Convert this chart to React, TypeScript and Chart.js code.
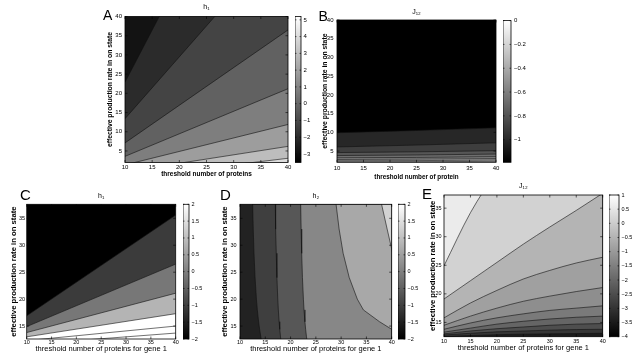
import React, { useEffect, useRef } from "react";
import { Chart, registerables } from "chart.js";
Chart.register(...registerables);

const FONT = '"Liberation Sans", Arial, Helvetica, sans-serif';
Chart.defaults.font.family = FONT;

// ---------------- DATA ----------------
// Panel A : h1 (contour boundaries y(x), listed bottom -> top)
const A_X = [10, 40];
const A_LINES = [
  [-2.0, 3.1],
  [-0.4, 6.2],
  [1.37, 11.9],
  [3.6, 21.2],
  [7.1, 36.5],
  [13.4, 61.7],
  [22.9, 104.3],
];
const A_BASE = "#dcdcdc";
const A_FILLS = ["#bdbdbd", "#9d9d9d", "#7e7e7e", "#616161", "#444444", "#2b2b2b", "#131313"];
const A_X_TICKS = [10, 15, 20, 25, 30, 35, 40];
const A_Y_TICKS = [5, 10, 15, 20, 25, 30, 35, 40];
const A_CB_TICKS = [-3, -2, -1, 0, 1, 2, 3, 4, 5];

// Panel B : J12
const B_X = [10, 25, 40];
const B_LINES = [
  [2.12, 2.15, 2.25],
  [2.4, 2.45, 2.6],
  [2.75, 2.85, 3.0],
  [3.2, 3.3, 3.5],
  [3.8, 3.95, 4.2],
  [4.6, 4.8, 5.1],
  [6.1, 6.6, 7.2],
  [9.9, 10.5, 11.2],
];
const B_BASE = "#d6d6d6";
const B_FILLS = ["#bbbbbb", "#a0a0a0", "#878787", "#6e6e6e", "#565656", "#3e3e3e", "#272727", "#000000"];
const B_X_TICKS = [10, 15, 20, 25, 30, 35, 40];
const B_Y_TICKS = [5, 10, 15, 20, 25, 30, 35, 40];
const B_CB_TICKS = [0, -0.2, -0.4, -0.6, -0.8, -1];

// Panel C : h1 (gene 1)
const C_X = [10, 40];
const C_LINES = [
  [11.6, 13.7],
  [12.3, 15.0],
  [13.0, 17.3],
  [13.8, 21.1],
  [14.9, 26.5],
  [16.9, 35.6],
];
const C_BASE = "#ffffff";
const C_FILLS = ["#ffffff", "#ffffff", "#b4b4b4", "#777777", "#3b3b3b", "#000000"];
const CDE_X_TICKS = [10, 15, 20, 25, 30, 35, 40];
const CDE_Y_TICKS = [15, 20, 25, 30, 35];
const CD_CB_TICKS = [-2, -1.5, -1, -0.5, 0, 0.5, 1, 1.5, 2];

// Panel D : h2 — decreasing contour curves as [x, y] pairs, listed left -> right
const D_B1 = [[12.45, 40], [12.5, 37.6], [12.62, 33], [12.77, 28.5], [12.98, 24], [13.25, 20], [13.43, 18], [13.68, 15.8], [13.88, 14.4], [14.12, 13], [14.32, 12], [15.67, 8], [19.7, 4], [27.7, 2], [43.8, 1]];
const D_B2 = [[16.97, 40], [17.0, 37.6], [17.08, 33], [17.17, 28.5], [17.3, 24], [17.47, 20], [17.58, 18], [17.74, 15.8], [17.86, 14.4], [18.01, 13], [18.14, 12], [18.97, 8], [21.47, 4], [26.47, 2], [41.5, 0.8]];
const D_B3 = [[21.97, 40], [22.0, 37.6], [22.09, 33], [22.2, 28.5], [22.35, 24], [22.54, 20], [22.66, 18], [22.84, 15.8], [22.98, 14.4], [23.15, 13], [23.29, 12], [24.24, 8], [27.1, 4], [32.75, 2], [40.3, 1.2]];
const D_B4 = [[28.8, 40], [29.0, 37.6], [29.6, 33], [30.4, 28.5], [31.6, 24], [33.2, 20], [34.4, 18], [37.6, 15.8], [40, 14.4], [43.5, 13], [47, 12]];
const D_B5 = [[37.6, 40], [38.0, 37.6], [39.1, 33], [40.2, 28.5], [42, 24], [46, 20]];
const D_CURVES = [D_B1, D_B2, D_B3, D_B4, D_B5];
const D_BASE = "#222222";
const D_FILLS = ["#3f3f3f", "#575757", "#878787", "#a8a8a8", "#d2d2d2"];

// Panel E : J12 (gene 1)
const E_X = [10, 15, 20, 25, 30, 35, 40];
const E_LINES = [
  [12.55, 12.7, 12.85, 12.95, 13.0, 13.05, 13.1],
  [12.8, 13.1, 13.35, 13.5, 13.65, 13.75, 13.8],
  [13.0, 13.5, 13.9, 14.2, 14.5, 14.7, 14.8],
  [13.3, 14.0, 14.7, 15.2, 15.6, 15.9, 16.1],
  [13.8, 14.9, 15.8, 16.5, 17.1, 17.5, 17.9],
  [14.5, 16.1, 17.5, 18.7, 19.6, 20.4, 21.1],
  [15.8, 18.4, 20.6, 22.6, 24.1, 25.4, 26.4],
  [19.1, 22.3, 25.5, 28.7, 31.7, 34.6, 37.6],
  [24.9, 34.2, 41.5, 48, 54, 60, 66],
];
const E_BASE = "#1c1c1c";
const E_FILLS = ["#363636", "#4e4e4e", "#656565", "#7a7a7a", "#8e8e8e", "#a0a0a0", "#b4b4b4", "#d2d2d2", "#ebebeb"];
const E_CB_TICKS = [1, 0.5, 0, -0.5, -1, -1.5, -2, -2.5, -3, -3.5, -4];

// ---------------- HELPERS ----------------
const LINE_COLOR = "#111111";
const fmt = (v: number) => (v < 0 ? "\u2212" : "") + String(Math.round(Math.abs(v) * 100) / 100);

const frame = {
  id: "frame",
  beforeDatasetsDraw(chart: any, _a: any, opts: any) {
    if (!opts || !opts.bg) return;
    const { ctx, chartArea: a } = chart;
    ctx.save();
    ctx.fillStyle = opts.bg;
    ctx.fillRect(a.left, a.top, a.width, a.height);
    ctx.restore();
  },
  afterDatasetsDraw(chart: any, _a: any, opts: any) {
    const { ctx, chartArea: a } = chart;
    const L = (opts && opts.tick) || 2.5;
    ctx.save();
    ctx.strokeStyle = "#000";
    ctx.lineWidth = 0.8;
    ctx.strokeRect(a.left, a.top, a.width, a.height);
    ctx.lineWidth = 0.6;
    ctx.beginPath();
    Object.keys(chart.scales).forEach((id) => {
      const s = chart.scales[id];
      if (!s.options.display || s.type !== "linear") return;
      s.ticks.forEach((t: any) => {
        const p = s.getPixelForValue(t.value);
        if (s.isHorizontal()) {
          ctx.moveTo(p, a.bottom);
          ctx.lineTo(p, a.bottom - L);
          ctx.moveTo(p, a.top);
          ctx.lineTo(p, a.top + L);
        } else {
          ctx.moveTo(a.left, p);
          ctx.lineTo(a.left + L, p);
          ctx.moveTo(a.right, p);
          ctx.lineTo(a.right - L, p);
        }
      });
    });
    ctx.stroke();
    ctx.restore();
  },
};

// each boundary fills the region above it (painted lowest boundary first)
function curvesToDatasets(curves: { x: number; y: number }[][], fills: string[], smooth: boolean) {
  const n = curves.length;
  return curves.map((pts, k) => ({
    data: pts,
    fill: "end",
    backgroundColor: fills[k],
    borderColor: LINE_COLOR,
    borderWidth: 0.6,
    pointRadius: 0,
    cubicInterpolationMode: smooth ? "monotone" : "default",
    tension: 0,
    order: n - k,
  }));
}
const rows = (xs: number[], lines: number[][]) => lines.map((ys) => ys.map((y, i) => ({ x: xs[i], y })));
const pairs = (curves: number[][][]) => curves.map((c) => c.map(([x, y]) => ({ x, y })));

type PlotSpec = {
  cl: number; ct: number; cr: number; cb: number;
  pl: number; pt: number; pr: number; pb: number;
  xr: [number, number]; yr: [number, number];
  xTicks: number[]; yTicks: number[];
  title: string; titleCY: number; titleSize: number;
  xTitle: string; xTitleCY: number; xTitleSize: number; xTitleWeight: string;
  yTitle: string; yTitleCX: number; yTitleSize: number; yTitleWeight: string;
  tickSize: number; yTickRight: number; xTickCY: number;
  datasets: any[]; bg: string;
};

function plotConfig(s: PlotSpec) {
  const tlh = s.titleSize * 1.2;
  const tPadTop = s.titleCY - s.ct - tlh / 2;
  const tPadBottom = s.pt - s.ct - tlh - tPadTop;
  const ylh = s.yTitleSize * 1.2;
  const xlh = s.xTitleSize * 1.2;
  const klh = s.tickSize * 1.2;
  return {
    type: "line",
    data: { datasets: s.datasets },
    options: {
      responsive: false,
      animation: false,
      devicePixelRatio: 1,
      events: [],
      layout: { padding: { left: 0, top: 0, right: s.cr - s.pr, bottom: 0 } },
      plugins: {
        legend: { display: false },
        tooltip: { enabled: false },
        title: {
          display: true,
          text: s.title,
          fullSize: false,
          color: "#000",
          font: { family: FONT, size: s.titleSize, weight: "normal", lineHeight: 1.2 },
          padding: { top: tPadTop, bottom: tPadBottom },
        },
        frame: { bg: s.bg, tick: 2.5 },
      },
      scales: {
        x: {
          type: "linear",
          min: s.xr[0],
          max: s.xr[1],
          grid: { display: false, drawTicks: false },
          border: { display: false },
          ticks: {
            autoSkip: false,
            maxRotation: 0,
            color: "#000",
            font: { family: FONT, size: s.tickSize, lineHeight: 1.2 },
            padding: s.xTickCY - s.pb - klh / 2,
            callback: (v: number) => fmt(v),
          },
          title: {
            display: true,
            text: s.xTitle,
            color: "#000",
            font: { family: FONT, size: s.xTitleSize, weight: s.xTitleWeight, lineHeight: 1.2 },
            padding: { top: 0, bottom: s.cb - s.xTitleCY - xlh / 2 },
          },
          afterBuildTicks: (sc: any) => {
            sc.ticks = s.xTicks.map((v) => ({ value: v }));
          },
          afterFit: (sc: any) => {
            sc.height = s.cb - s.pb;
          },
        },
        y: {
          type: "linear",
          min: s.yr[0],
          max: s.yr[1],
          grid: { display: false, drawTicks: false },
          border: { display: false },
          ticks: {
            autoSkip: false,
            color: "#000",
            font: { family: FONT, size: s.tickSize, lineHeight: 1.2 },
            padding: s.pl - s.yTickRight,
            callback: (v: number) => fmt(v),
          },
          title: {
            display: true,
            text: s.yTitle,
            color: "#000",
            font: { family: FONT, size: s.yTitleSize, weight: s.yTitleWeight, lineHeight: 1.2 },
            padding: { top: s.yTitleCX - s.cl - ylh / 2, bottom: 0 },
          },
          afterBuildTicks: (sc: any) => {
            sc.ticks = s.yTicks.map((v) => ({ value: v }));
          },
          afterFit: (sc: any) => {
            sc.width = s.pl - s.cl;
          },
        },
      },
    },
    plugins: [frame],
  };
}

type CbSpec = { l: number; r: number; t: number; b: number; lo: number; hi: number; ticks: number[]; labelLeft: number; size: number; ct: number; cw: number; ch: number };

function cbConfig(c: CbSpec) {
  return {
    type: "bar",
    data: {
      labels: [""],
      datasets: [
        {
          data: [[c.lo, c.hi]],
          backgroundColor: (ctx: any) => {
            const ch = ctx.chart;
            const a = ch.chartArea;
            if (!a) return "#808080";
            const g = ch.ctx.createLinearGradient(0, a.bottom, 0, a.top);
            g.addColorStop(0, "#000000");
            g.addColorStop(1, "#ffffff");
            return g;
          },
          borderWidth: 0,
          barPercentage: 1,
          categoryPercentage: 1,
        },
      ],
    },
    options: {
      responsive: false,
      animation: false,
      devicePixelRatio: 1,
      events: [],
      layout: { padding: { left: 0, right: 0, top: c.t - c.ct, bottom: c.ct + c.ch - c.b } },
      plugins: { legend: { display: false }, tooltip: { enabled: false }, frame: { tick: 1.5 } },
      scales: {
        x: { display: false },
        y: {
          type: "linear",
          position: "right",
          min: c.lo,
          max: c.hi,
          grid: { display: false, drawTicks: false },
          border: { display: false },
          ticks: {
            autoSkip: false,
            color: "#000",
            font: { family: FONT, size: c.size, lineHeight: 1.2 },
            padding: c.labelLeft - c.r,
            callback: (v: number) => fmt(v),
          },
          afterBuildTicks: (sc: any) => {
            sc.ticks = c.ticks.map((v) => ({ value: v }));
          },
          afterFit: (sc: any) => {
            sc.width = c.cw - (c.r - c.l);
          },
        },
      },
    },
    plugins: [frame],
  };
}

function ChartCanvas({ x, y, w, h, make }: { x: number; y: number; w: number; h: number; make: () => any }) {
  const ref = useRef<HTMLCanvasElement | null>(null);
  useEffect(() => {
    if (!ref.current) return;
    const chart = new Chart(ref.current, make());
    return () => chart.destroy();
  }, []);
  return (
    <canvas
      ref={ref}
      width={w}
      height={h}
      style={{ position: "absolute", left: x, top: y, width: w, height: h }}
    />
  );
}

function Plot({ s }: { s: PlotSpec }) {
  return <ChartCanvas x={s.cl} y={s.ct} w={s.cr - s.cl} h={s.cb - s.ct} make={() => plotConfig(s)} />;
}

function ColorBar({ l, r, t, b, lo, hi, ticks, labelLeft, size }: { l: number; r: number; t: number; b: number; lo: number; hi: number; ticks: number[]; labelLeft: number; size: number }) {
  const ct = Math.floor(t) - 6;
  const ch = Math.ceil(b) + 6 - ct;
  const cw = r - l + 24;
  const c: CbSpec = { l, r, t, b, lo, hi, ticks, labelLeft, size, ct, cw, ch };
  return <ChartCanvas x={l} y={ct} w={cw} h={ch} make={() => cbConfig(c)} />;
}

const YLABEL = "effective production rate in on state";

const specA: PlotSpec = {
  cl: 104, ct: 0, cr: 296, cb: 181,
  pl: 125, pt: 16.5, pr: 288, pb: 162.5,
  xr: [10, 40], yr: [2, 40], xTicks: A_X_TICKS, yTicks: A_Y_TICKS,
  title: "h\u2081", titleCY: 7, titleSize: 7,
  xTitle: "threshold number of proteins", xTitleCY: 174.3, xTitleSize: 6.5, xTitleWeight: "bold",
  yTitle: YLABEL, yTitleCX: 110, yTitleSize: 6.8, yTitleWeight: "bold",
  tickSize: 6, yTickRight: 122, xTickCY: 167.7,
  datasets: curvesToDatasets(rows(A_X, A_LINES), A_FILLS, false), bg: A_BASE,
};

const specB: PlotSpec = {
  cl: 319, ct: 0, cr: 504, cb: 184,
  pl: 337, pt: 20, pr: 496, pb: 162.3,
  xr: [10, 40], yr: [2, 40], xTicks: B_X_TICKS, yTicks: B_Y_TICKS,
  title: "J\u2081\u2082", titleCY: 11.7, titleSize: 7,
  xTitle: "threshold number of protein", xTitleCY: 177.7, xTitleSize: 6.3, xTitleWeight: "bold",
  yTitle: YLABEL, yTitleCX: 325, yTitleSize: 6.8, yTitleWeight: "bold",
  tickSize: 6, yTickRight: 333.5, xTickCY: 168,
  datasets: curvesToDatasets(rows(B_X, B_LINES), B_FILLS, true), bg: B_BASE,
};

const specC: PlotSpec = {
  cl: 6, ct: 186, cr: 183, cb: 354,
  pl: 26.7, pt: 204.3, pr: 175.7, pb: 339,
  xr: [10, 40], yr: [12.6, 37.6], xTicks: CDE_X_TICKS, yTicks: CDE_Y_TICKS,
  title: "h\u2081", titleCY: 196, titleSize: 7,
  xTitle: "threshold number of proteins for gene 1", xTitleCY: 348.8, xTitleSize: 7.5, xTitleWeight: "normal",
  yTitle: YLABEL, yTitleCX: 14, yTitleSize: 7.7, yTitleWeight: "bold",
  tickSize: 5.5, yTickRight: 25, xTickCY: 342.8,
  datasets: curvesToDatasets(rows(C_X, C_LINES), C_FILLS, false), bg: C_BASE,
};

const specD: PlotSpec = {
  cl: 218, ct: 186, cr: 398, cb: 354,
  pl: 240, pt: 204.3, pr: 391.7, pb: 339,
  xr: [10, 40], yr: [12.6, 37.6], xTicks: CDE_X_TICKS, yTicks: CDE_Y_TICKS,
  title: "h\u2082", titleCY: 196, titleSize: 7,
  xTitle: "threshold number of proteins for gene 1", xTitleCY: 348.8, xTitleSize: 7.5, xTitleWeight: "normal",
  yTitle: YLABEL, yTitleCX: 225, yTitleSize: 7.7, yTitleWeight: "bold",
  tickSize: 5.5, yTickRight: 236.5, xTickCY: 342.8,
  datasets: curvesToDatasets(pairs(D_CURVES), D_FILLS, false), bg: D_BASE,
};

const specE: PlotSpec = {
  cl: 424, ct: 176, cr: 608, cb: 354,
  pl: 444, pt: 195, pr: 602.7, pb: 336.7,
  xr: [10, 40], yr: [12.5, 37.3], xTicks: CDE_X_TICKS, yTicks: CDE_Y_TICKS,
  title: "J\u2081\u2082", titleCY: 185.7, titleSize: 7,
  xTitle: "threshold number of proteins for gene 1", xTitleCY: 348.3, xTitleSize: 7.5, xTitleWeight: "normal",
  yTitle: YLABEL, yTitleCX: 433, yTitleSize: 7.7, yTitleWeight: "bold",
  tickSize: 5.5, yTickRight: 441.5, xTickCY: 341.7,
  datasets: curvesToDatasets(rows(E_X, E_LINES), E_FILLS, true), bg: E_BASE,
};

function Letter({ ch, x, y, size }: { ch: string; x: number; y: number; size: number }) {
  return (
    <div
      style={{
        position: "absolute",
        left: x,
        top: y,
        fontFamily: FONT,
        fontSize: size,
        lineHeight: `${size}px`,
        color: "#000",
      }}
    >
      {ch}
    </div>
  );
}

export default function App() {
  return (
    <div
      style={{
        position: "absolute",
        left: 0,
        top: 0,
        width: 632,
        height: 354,
        background: "#ffffff",
        overflow: "hidden",
      }}
    >
      <Plot s={specA} />
      <Plot s={specB} />
      <Plot s={specC} />
      <Plot s={specD} />
      <Plot s={specE} />
      <ColorBar l={295} r={301} t={16.5} b={162.5} lo={-3.51} hi={5.2} ticks={A_CB_TICKS} labelLeft={303.5} size={6} />
      <ColorBar l={503} r={511} t={20} b={162.3} lo={-1.19} hi={0} ticks={B_CB_TICKS} labelLeft={514} size={6} />
      <ColorBar l={183} r={189} t={204.3} b={339} lo={-2} hi={2} ticks={CD_CB_TICKS} labelLeft={191.5} size={5.5} />
      <ColorBar l={398} r={405} t={204.3} b={339} lo={-2} hi={2} ticks={CD_CB_TICKS} labelLeft={407.5} size={5.5} />
      <ColorBar l={609} r={619} t={195} b={336.7} lo={-4} hi={1} ticks={E_CB_TICKS} labelLeft={621.5} size={5.5} />
      <Letter ch="A" x={103} y={8} size={14} />
      <Letter ch="B" x={318.5} y={9.2} size={14} />
      <Letter ch="C" x={20} y={187.3} size={15} />
      <Letter ch="D" x={220} y={187.3} size={15} />
      <Letter ch="E" x={422} y={186.3} size={15} />
    </div>
  );
}
